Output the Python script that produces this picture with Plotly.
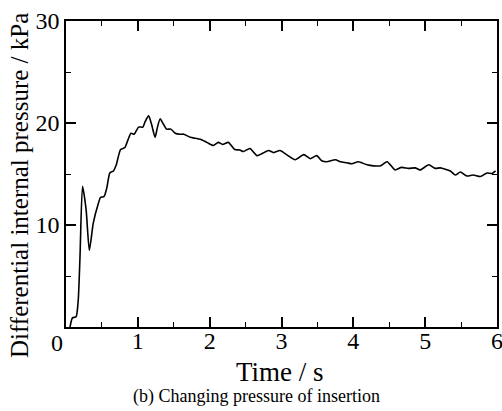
import plotly.graph_objects as go

time_s = [0.056, 0.09, 0.14, 0.17, 0.195, 0.23, 0.28, 0.325, 0.38, 0.45, 0.48, 0.53, 0.57, 0.61,
          0.66, 0.70, 0.76, 0.82, 0.86, 0.905, 0.95, 1.01, 1.07, 1.10, 1.15, 1.19, 1.24, 1.27,
          1.31, 1.355, 1.40, 1.46, 1.52, 1.59, 1.64, 1.73, 1.80, 1.87, 1.96, 2.05, 2.12, 2.18,
          2.26, 2.35, 2.42, 2.47, 2.56, 2.66, 2.73, 2.82, 2.89, 2.98, 3.07, 3.19, 3.31, 3.40,
          3.49, 3.56, 3.63, 3.75, 3.82, 3.91, 3.98, 4.07, 4.19, 4.28, 4.38, 4.47, 4.58, 4.67,
          4.77, 4.86, 4.93, 5.05, 5.14, 5.21, 5.35, 5.42, 5.49, 5.58, 5.67, 5.77, 5.86, 5.93, 5.98]
pressure_kpa = [0.0, 0.9, 1.0, 2.6, 6.9, 13.8, 11.5, 7.5, 10.2, 12.1, 12.7, 12.8, 13.7, 15.1,
                15.3, 15.9, 17.4, 17.6, 18.3, 19.0, 18.9, 19.6, 19.6, 20.1, 20.7, 19.9, 18.6, 19.5,
                20.4, 19.9, 19.4, 19.4, 19.0, 18.9, 18.9, 18.6, 18.5, 18.4, 18.1, 17.8, 18.1, 17.9,
                18.1, 17.4, 17.35, 17.2, 17.5, 16.8, 17.0, 17.3, 17.1, 17.3, 16.9, 16.4, 16.9, 16.5,
                16.8, 16.3, 16.2, 16.4, 16.2, 16.1, 16.0, 16.2, 15.9, 15.8, 15.8, 16.2, 15.4, 15.65,
                15.55, 15.6, 15.4, 15.9, 15.55, 15.6, 15.3, 14.9, 15.2, 14.8, 14.9, 14.75, 15.1, 15.05, 15.3]

x_ticks = [1, 2, 3, 4, 5, 6]
y_ticks = [10, 20, 30]

FONT = "Liberation Serif"

fig = go.Figure()
fig.add_trace(go.Scatter(x=time_s, y=pressure_kpa, mode="lines",
                         line=dict(color="black", width=1.6, shape="spline", smoothing=0.6),
                         showlegend=False, hoverinfo="skip"))

axis_common = dict(showgrid=False, zeroline=False, showline=True, linecolor="black",
                   linewidth=1.5, mirror="ticks", ticks="inside", ticklen=10, tickwidth=1.5,
                   tickcolor="black", automargin=False, ticklabeloverflow="allow",
                   tickfont=dict(family=FONT, size=24, color="black"))

fig.update_xaxes(range=[0, 6], tickvals=x_ticks, ticktext=[str(v) for v in x_ticks],
                 ticklabelstandoff=-9,
                 minor=dict(tickvals=[0.5, 1.5, 2.5, 3.5, 4.5, 5.5], ticks="inside",
                            ticklen=5, tickwidth=1.2, tickcolor="black"),
                 **axis_common)
fig.update_yaxes(range=[0, 30], tickvals=y_ticks, ticktext=[str(v) for v in y_ticks],
                 minor=dict(tickvals=[5, 15, 25], ticks="inside",
                            ticklen=5, tickwidth=1.2, tickcolor="black"),
                 **axis_common)

L, R, T, B = 66, 5, 21, 84
W, H = 502, 411
pw = W - L - R
ph = H - T - B


def px_to_paper(xp, yp):
    return (xp - L) / pw, (H - B - yp) / ph


ox, oy = px_to_paper(57, 343)
tx, ty = px_to_paper(280, 372)
cx, cy = px_to_paper(256, 396)
yx, yy = px_to_paper(19, 186)

ann_common = dict(xref="paper", yref="paper", showarrow=False, xanchor="center", yanchor="middle")

fig.update_layout(
    width=W, height=H,
    margin=dict(l=L, r=R, t=T, b=B, autoexpand=False),
    plot_bgcolor="white", paper_bgcolor="white",
    font=dict(family=FONT, color="black"),
    annotations=[
        dict(text="0", x=ox, y=oy, font=dict(family=FONT, size=24, color="black"), **ann_common),
        dict(text="Time / s", x=tx, y=ty, font=dict(family=FONT, size=27, color="black"), **ann_common),
        dict(text="(b) Changing pressure of insertion", x=cx, y=cy,
             font=dict(family=FONT, size=18, color="black"), **ann_common),
        dict(text="Differential internal pressure / kPa", x=yx, y=yy, textangle=-90,
             font=dict(family=FONT, size=25, color="black"), **ann_common),
    ],
)

fig.write_html("out.html", config={"displayModeBar": False},
               post_script="document.body.style.margin='0';document.body.style.overflow='hidden';")
